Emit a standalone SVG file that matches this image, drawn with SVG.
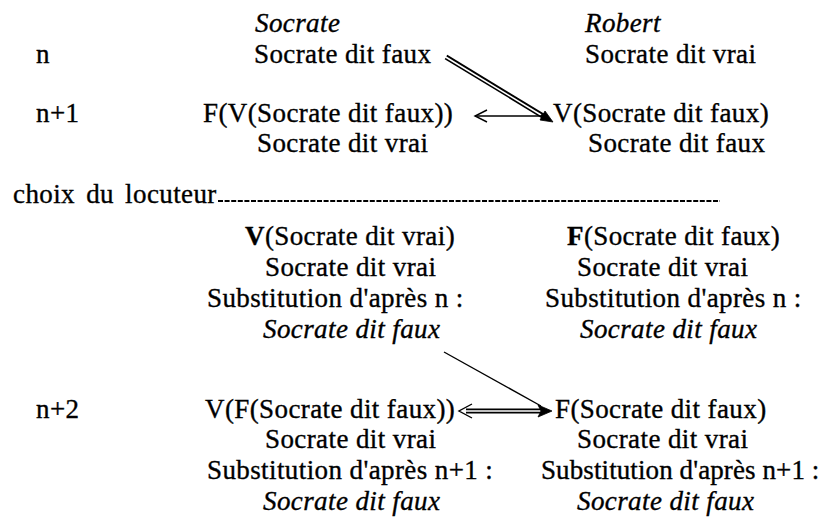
<svg xmlns="http://www.w3.org/2000/svg" width="835" height="531" viewBox="0 0 835 531">
<style>
text{font-family:"Liberation Serif","Times New Roman",serif;font-size:27px;fill:#000;letter-spacing:0.4px;stroke:#000;stroke-width:0.35px}
.i{font-style:italic}
.b{font-weight:bold}
.tight{letter-spacing:0.1px}
.ln{stroke:#000;fill:none;stroke-width:1.4}
.dbl{stroke:#000;stroke-width:5;fill:none}
.dblw{stroke:#fff;stroke-width:1.6;fill:none}
.hd{fill:#000;stroke:#000;stroke-width:0.8}
.dash{stroke:#000;stroke-width:1.8;stroke-dasharray:5 1.6;fill:none}
</style>
<rect width="835" height="531" fill="#fff"/>

<g id="labels">
  <g id="lbl-n"><text x="36" y="63">n</text></g>
  <g id="lbl-n1"><text x="36" y="122">n+1</text></g>
  <g id="lbl-choix"><text x="13" y="203" word-spacing="4">choix du locuteur</text></g>
  <g id="lbl-n2"><text x="36" y="418">n+2</text></g>
</g>

<g id="head-socrate"><text class="i" x="255" y="32">Socrate</text></g>
<g id="head-robert"><text class="i" x="585" y="32">Robert</text></g>

<g id="n-socrate"><text x="254" y="63">Socrate dit faux</text></g>
<g id="n-robert"><text x="585" y="63">Socrate dit vrai</text></g>

<g id="n1-socrate">
  <text x="203" y="122">F(V(Socrate dit faux))</text>
  <text x="257" y="152">Socrate dit vrai</text>
</g>
<g id="n1-robert">
  <text x="553" y="122">V(Socrate dit faux)</text>
  <text x="588" y="152">Socrate dit faux</text>
</g>

<g id="choix-socrate">
  <text x="245" y="245"><tspan class="b">V</tspan>(Socrate dit vrai)</text>
  <text x="265" y="276">Socrate dit vrai</text>
  <text x="207" y="307">Substitution d'après n :</text>
  <text class="i" x="263" y="338">Socrate dit faux</text>
</g>
<g id="choix-robert">
  <text x="567" y="245"><tspan class="b">F</tspan>(Socrate dit faux)</text>
  <text x="577" y="276">Socrate dit vrai</text>
  <text x="545" y="307">Substitution d'après n :</text>
  <text class="i" x="580" y="338">Socrate dit faux</text>
</g>

<g id="n2-socrate">
  <text x="205" y="418">V(F(Socrate dit faux))</text>
  <text x="265" y="448">Socrate dit vrai</text>
  <text x="207" y="479">Substitution d'après n+1 :</text>
  <text class="i" x="263" y="510">Socrate dit faux</text>
</g>
<g id="n2-robert">
  <text x="555" y="418">F(Socrate dit faux)</text>
  <text x="577" y="448">Socrate dit vrai</text>
  <text class="tight" x="541" y="479">Substitution d'après n+1 :</text>
  <text class="i" x="577" y="510">Socrate dit faux</text>
</g>

<g id="connectors">
  <line class="dash" x1="218" y1="201" x2="720" y2="201"/>
  <line class="dbl" x1="446" y1="57" x2="543" y2="116"/>
  <line class="dblw" x1="444" y1="56" x2="541" y2="115"/>
  <polygon class="hd" points="553,122 540,120 545,111"/>
  <line class="ln" x1="548" y1="116" x2="475" y2="116"/>
  <polyline class="ln" points="487,110 475,116 487,122"/>
  <line class="ln" x1="444" y1="352" x2="541" y2="406"/>
  <line class="dbl" x1="466" y1="411" x2="541" y2="411"/>
  <line class="dblw" x1="464" y1="411" x2="543" y2="411"/>
  <polyline class="ln" points="472,404 459,411 472,418"/>
  <polygon class="hd" points="552,411 538,405 541,411 538,417"/>
</g>
</svg>
